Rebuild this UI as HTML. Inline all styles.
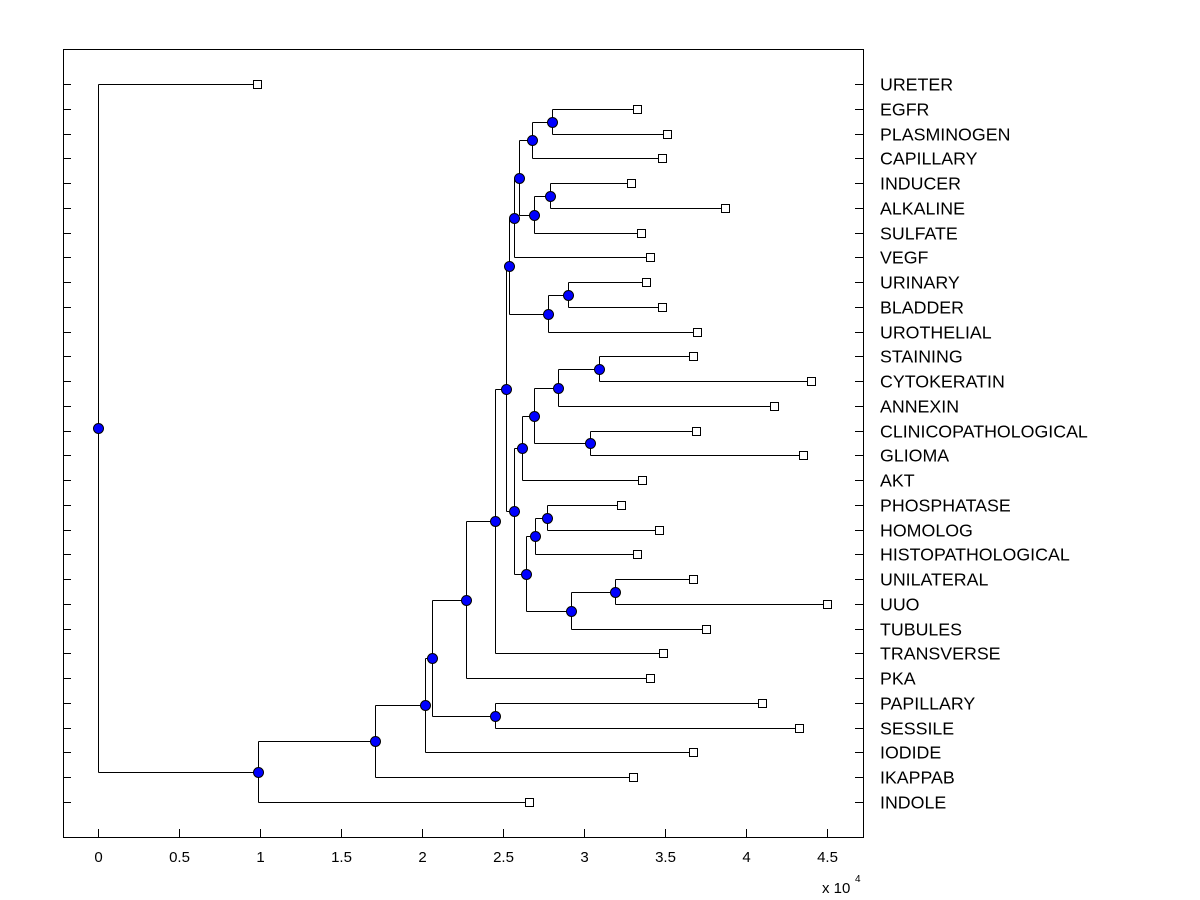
<!DOCTYPE html>
<html><head><meta charset="utf-8"><style>body{margin:0;background:#fff}svg{display:block}</style></head>
<body>
<svg id="chart" width="1200" height="900" xmlns="http://www.w3.org/2000/svg" font-family="Liberation Sans, Arial, sans-serif">
<rect x="0" y="0" width="1200" height="900" fill="#fff"/>
<g id="g"></g>
</svg>
<script>
const leafNames = ["URETER","EGFR","PLASMINOGEN","CAPILLARY","INDUCER","ALKALINE","SULFATE","VEGF","URINARY","BLADDER","UROTHELIAL","STAINING","CYTOKERATIN","ANNEXIN","CLINICOPATHOLOGICAL","GLIOMA","AKT","PHOSPHATASE","HOMOLOG","HISTOPATHOLOGICAL","UNILATERAL","UUO","TUBULES","TRANSVERSE","PKA","PAPILLARY","SESSILE","IODIDE","IKAPPAB","INDOLE"];
const leafValues = [0.98,3.33,3.51,3.48,3.29,3.87,3.35,3.41,3.38,3.48,3.70,3.67,4.40,4.17,3.69,4.35,3.36,3.23,3.46,3.33,3.67,4.50,3.75,3.49,3.41,4.10,4.33,3.67,3.30,2.66];
const nodeIds = ["a1","a2","b1","b2","d","e","f","u1","u2","s1","s2","c1","c3","c4","p1","p2","q1","q2","n3","n4","n5","n6","n7","ps","n8","n9","n10","n11","root"];
const nodeChildren = [["EGFR","PLASMINOGEN"],["a1","CAPILLARY"],["INDUCER","ALKALINE"],["b1","SULFATE"],["a2","b2"],["d","VEGF"],["e","u2"],["URINARY","BLADDER"],["u1","UROTHELIAL"],["STAINING","CYTOKERATIN"],["s1","ANNEXIN"],["CLINICOPATHOLOGICAL","GLIOMA"],["s2","c1"],["c3","AKT"],["PHOSPHATASE","HOMOLOG"],["p1","HISTOPATHOLOGICAL"],["UNILATERAL","UUO"],["q1","TUBULES"],["p2","q2"],["c4","n3"],["f","n4"],["n5","TRANSVERSE"],["n6","PKA"],["PAPILLARY","SESSILE"],["n7","ps"],["n8","IODIDE"],["n9","IKAPPAB"],["n10","INDOLE"],["URETER","n11"]];
const nodeValues = [2.80,2.68,2.79,2.69,2.60,2.57,2.54,2.90,2.78,3.09,2.84,3.04,2.69,2.62,2.77,2.70,3.19,2.92,2.64,2.57,2.52,2.45,2.27,2.45,2.06,2.02,1.71,0.99,0];
const xTicks = [0,0.5,1,1.5,2,2.5,3,3.5,4,4.5];
const xTickLabels = ["0","0.5","1","1.5","2","2.5","3","3.5","4","4.5"];

const L=63,R=863,T=49,B=837;
const xs=v=>Math.round(98+v*162)+0.5;
const ys=i=>Math.round(84+i*(802-84)/29)+0.5;
const g=document.getElementById('g');
const NS="http://www.w3.org/2000/svg";
function mk(t,a){const el=document.createElementNS(NS,t);for(const k in a)el.setAttribute(k,a[k]);g.appendChild(el);return el;}
const pos={};
leafNames.forEach((n,i)=>{pos[n]={x:xs(leafValues[i]),y:ys(i)};});
function getPos(id){
  if(pos[id])return pos[id];
  const i=nodeIds.indexOf(id);const [a,b]=nodeChildren[i];
  const pa=getPos(a),pb=getPos(b);
  pos[id]={x:xs(nodeValues[i]),y:Math.floor((pa.y+pb.y)/2)+0.5,ch:[a,b]};
  return pos[id];
}
nodeIds.forEach(id=>getPos(id));
let frame=mk('rect',{x:L+0.5,y:T+0.5,width:R-L,height:B-T,fill:'none',stroke:'#000','stroke-width':1,'shape-rendering':'crispEdges'});


leafNames.forEach((n,i)=>{const y=ys(i);
 let t=mk('line',{x1:L,x2:L+8,y1:y,y2:y,stroke:'#000','shape-rendering':'crispEdges'});
 
 
 t=mk('line',{x1:R-8,x2:R,y1:y,y2:y,stroke:'#000','shape-rendering':'crispEdges'});
 
 
 const tx=mk('text',{x:880,y:y+6,'font-size':17.8,fill:'#000'});tx.textContent=n;
 
 });
xTicks.forEach((v,i)=>{const x=xs(v);
 let t=mk('line',{x1:x,x2:x,y1:B-8,y2:B,stroke:'#000','shape-rendering':'crispEdges'});
 
 
 const tx=mk('text',{x:x,y:862,'font-size':15,'text-anchor':'middle'});tx.textContent=xTickLabels[i];
 
 });
let ex=mk('text',{x:822,y:893,'font-size':15});ex.textContent='x 10';


let sup=mk('text',{x:855,y:882,'font-size':10});sup.textContent='4';


nodeIds.forEach(id=>{const p=pos[id];const [a,b]=p.ch;
 let v=mk('line',{x1:p.x,x2:p.x,y1:pos[a].y,y2:pos[b].y,stroke:'#000','shape-rendering':'crispEdges'});
 
 
 [a,b].forEach(c=>{let h=mk('line',{x1:p.x,x2:pos[c].x,y1:pos[c].y,y2:pos[c].y,stroke:'#000','shape-rendering':'crispEdges'});
 
 });});
leafNames.forEach(n=>{const p=pos[n];let r=mk('rect',{x:p.x-4,y:p.y-4,width:8,height:8,fill:'#fff',stroke:'#000','shape-rendering':'crispEdges'});
 
 });
nodeIds.forEach(id=>{const p=pos[id];let c=mk('circle',{cx:p.x,cy:p.y,r:5,fill:'#0000ff',stroke:'#000'});
 
 });
</script>
</body></html>
